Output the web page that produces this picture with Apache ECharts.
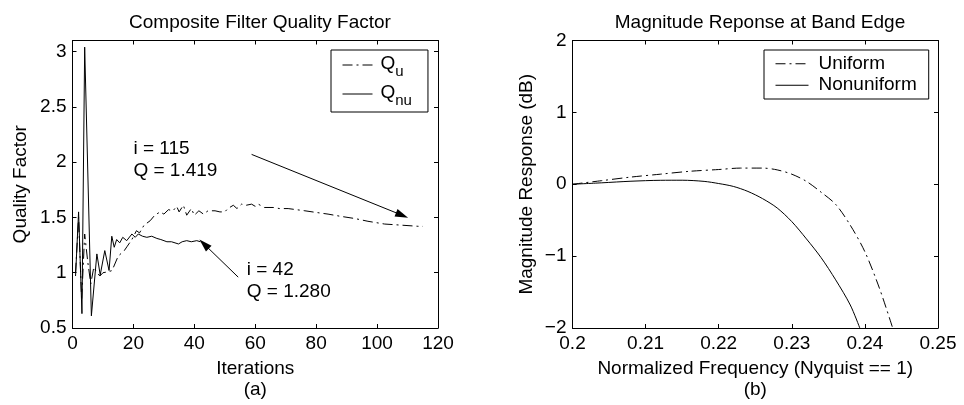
<!DOCTYPE html>
<html><head><meta charset="utf-8">
<script src="https://cdn.jsdelivr.net/npm/echarts@6/dist/echarts.min.js"></script>
<style>html,body{margin:0;padding:0;background:#fff}#c{width:964px;height:405px}</style>
</head><body><div id="c"></div>
<script>
// ---------- data ----------
const quIter = [1,2,3,4,5,6,7,8,9,10,12,13,15,17,18,19.5,21,22,23.5,25.5,27,28.8,30,31.5,33,34.2,35,36.4,37.5,39,40,41.5,43,44.5,46.8,48.4,50,51,52.8,54,55.5,57,58.8,60,61,63,65.9,68,70.8,76.3,80,83.9,88,92.7,97,102.5,108,113.4,115];
const quVal  = [1.0,1.5,0.75,1.35,1.1,0.9,1.05,1.0,0.97,1.0,1.01,1.02,1.15,1.2,1.24,1.3,1.38,1.36,1.43,1.47,1.52,1.55,1.53,1.57,1.56,1.6,1.55,1.61,1.52,1.58,1.52,1.56,1.53,1.56,1.56,1.55,1.55,1.58,1.61,1.58,1.62,1.61,1.62,1.6,1.62,1.59,1.59,1.58,1.58,1.56,1.545,1.53,1.51,1.49,1.465,1.44,1.43,1.42,1.419];
const qnuIter = [1,2,3.1,4,6.2,8,9.1,10.6,12,12.9,13.7,14.5,15.5,16.5,17.8,19.5,20.6,21.6,23,24.4,26,27.7,29,31,32.5,34.8,36,37.5,39,40.8,42];
const qnuVal  = [0.97,1.55,0.63,3.04,0.61,1.17,0.98,1.2,1.02,1.33,1.23,1.3,1.27,1.32,1.29,1.35,1.32,1.35,1.33,1.32,1.33,1.31,1.3,1.28,1.28,1.26,1.28,1.29,1.28,1.29,1.28];
const freqUni = [0.200,0.204,0.208,0.212,0.216,0.220,0.223,0.226,0.228,0.230,0.232,0.234,0.236,0.238,0.240,0.242,0.2438];
const magUni  = [0,0.05,0.10,0.14,0.18,0.205,0.225,0.225,0.20,0.14,0.04,-0.11,-0.28,-0.57,-0.94,-1.45,-2.0];
const freqNon = [0.200,0.204,0.208,0.212,0.215,0.218,0.220,0.222,0.224,0.226,0.228,0.230,0.232,0.234,0.236,0.238,0.2393];
const magNon  = [0,0.02,0.042,0.055,0.056,0.04,0.01,-0.03,-0.10,-0.20,-0.33,-0.52,-0.76,-1.02,-1.33,-1.68,-2.0];
// annotations: arrow [tail, tip] and text anchor (left-middle) in data units
const arrowQu  = [[58.8, 2.07], [108.2, 1.52]];
const arrowQnu = [[54.4, 0.96], [43.2, 1.259]];
const textQu   = {at: [20, 2.02], text: 'i = 115\nQ = 1.419'};
const textQnu  = {at: [57.2, 0.928], text: 'i = 42\nQ = 1.280'};
const titles = ['Composite Filter Quality Factor', 'Magnitude Reponse at Band Edge'];

// ---------- chart ----------
const FONT = "'Liberation Sans', Arial, Helvetica, sans-serif";
const FS = 19;
const zip = (a, b) => a.map((v, i) => [v, b[i]]);
const minus = v => (v < 0 ? '\u2212' + Math.abs(v) : String(v));
const tick = {inside: true, length: 4, lineStyle: {color: '#000', width: 1}};
const line = {show: true, onZero: false, lineStyle: {color: '#000', width: 1}};
const lbl = {color: '#000', fontSize: FS, fontFamily: FONT};
const DASHDOT = [10, 4, 2, 4];
const noSymbol = {color: 'rgba(0,0,0,0)', borderColor: 'rgba(0,0,0,0)', borderWidth: 0, opacity: 0};

function boxAxes(grid, min, max, interval, isX, fmt, nameOpt) {
  const main = Object.assign({
    type: 'value', gridIndex: grid, min, max, interval,
    position: isX ? 'bottom' : 'left',
    axisLine: line, axisTick: tick, splitLine: {show: false},
    axisLabel: Object.assign({}, lbl, {margin: 6, formatter: fmt})
  }, nameOpt || {});
  const opp = {
    type: 'value', gridIndex: grid, min, max, interval,
    position: isX ? 'top' : 'right',
    axisLine: line, axisTick: tick, splitLine: {show: false}, axisLabel: {show: false}
  };
  return [main, opp];
}

const chart = echarts.init(document.getElementById('c'), null, {renderer: 'canvas'});
const xa = [].concat(
  boxAxes(0, 0, 120, 20, true, v => String(v), {
    name: 'Iterations\n(a)', nameLocation: 'middle', nameGap: 29,
    nameTextStyle: {color: '#000', fontSize: FS, fontFamily: FONT, lineHeight: 21}
  }),
  boxAxes(1, 0.2, 0.25, 0.01, true, v => String(+v.toFixed(2)), {
    name: 'Normalized Frequency (Nyquist == 1)\n(b)', nameLocation: 'middle', nameGap: 29,
    nameTextStyle: {color: '#000', fontSize: FS, fontFamily: FONT, lineHeight: 21}
  })
);
const ya = [].concat(
  boxAxes(0, 0.5, 3.1, 0.5, false, v => String(v), {
    name: 'Quality Factor', nameLocation: 'middle', nameGap: 42,
    nameTextStyle: {color: '#000', fontSize: FS, fontFamily: FONT}
  }),
  boxAxes(1, -2, 2, 1, false, minus, {
    name: 'Magnitude Response (dB)', nameLocation: 'middle', nameGap: 36,
    nameTextStyle: {color: '#000', fontSize: FS, fontFamily: FONT}
  })
);
ya[0].axisLabel.showMaxLabel = false;

const arrowMark = (pair) => ({
  silent: true, symbol: ['none', 'triangle'], symbolSize: [8, 13],
  lineStyle: {color: '#000', width: 1, type: 'solid'},
  label: {show: false}, emphasis: {disabled: true},
  data: [[{coord: pair[0]}, {coord: pair[1]}]]
});
const textMark = (t) => ({
  silent: true, symbol: 'circle', symbolSize: 0,
  label: {show: true, position: 'right', distance: 0, formatter: t.text,
          color: '#000', fontSize: FS, fontFamily: FONT, lineHeight: 22, align: 'left'},
  data: [{coord: t.at}]
});

chart.setOption({
  animation: false,
  backgroundColor: '#fff',
  title: [
    {text: titles[0], left: 255, top: 8, textAlign: 'center',
     textStyle: {color: '#000', fontSize: FS, fontWeight: 'normal', fontFamily: FONT}},
    {text: titles[1], left: 755, top: 8, textAlign: 'center',
     textStyle: {color: '#000', fontSize: FS, fontWeight: 'normal', fontFamily: FONT}}
  ],
  grid: [
    {left: 72.5, top: 40.5, width: 365.5, height: 287.5, show: false},
    {left: 572.5, top: 40.5, width: 365.5, height: 287.5, show: false}
  ],
  xAxis: xa,
  yAxis: ya,
  legend: [
    {
      data: ['Qu', 'Qnu'], orient: 'vertical', left: 331, top: 50,
      padding: [4, 16, 4, 11], itemGap: 4, itemWidth: 30, itemHeight: 14,
      borderColor: '#000', borderWidth: 1, backgroundColor: '#fff',
      selectedMode: false, itemStyle: noSymbol,
      lineStyle: {width: 1, color: '#000'},
      formatter: n => '{q|Q}{s|' + n.slice(1) + '}',
      textStyle: {
        padding: [0, 0, 0, 3],
        rich: {
          q: {fontSize: FS, fontFamily: FONT, color: '#000', lineHeight: 22, verticalAlign: 'top'},
          s: {fontSize: 15, fontFamily: FONT, color: '#000', lineHeight: 16, padding: [10, 0, 0, 0], verticalAlign: 'top'}
        }
      }
    },
    {
      data: ['Uniform', 'Nonuniform'], orient: 'vertical', left: 764, top: 50,
      padding: [3, 12, 3, 11], itemGap: 0, itemWidth: 33, itemHeight: 14,
      borderColor: '#000', borderWidth: 1, backgroundColor: '#fff',
      selectedMode: false, itemStyle: noSymbol,
      lineStyle: {width: 1, color: '#000'},
      textStyle: {color: '#000', fontSize: FS, fontFamily: FONT, lineHeight: 21.5, padding: [0, 0, 0, 5]}
    }
  ],
  series: [
    {name: 'Qu', type: 'line', xAxisIndex: 0, yAxisIndex: 0, data: zip(quIter, quVal),
     symbol: 'none', silent: true, itemStyle: {color: '#000'},
     lineStyle: {color: '#000', width: 1, type: DASHDOT},
     markLine: arrowMark(arrowQu), markPoint: textMark(textQu)},
    {name: 'Qnu', type: 'line', xAxisIndex: 0, yAxisIndex: 0, data: zip(qnuIter, qnuVal),
     symbol: 'none', silent: true, itemStyle: {color: '#000'},
     lineStyle: {color: '#000', width: 1, type: 'solid'},
     markLine: arrowMark(arrowQnu), markPoint: textMark(textQnu)},
    {name: 'Uniform', type: 'line', xAxisIndex: 2, yAxisIndex: 2, data: zip(freqUni, magUni),
     symbol: 'none', silent: true, smooth: 0.3, itemStyle: {color: '#000'},
     lineStyle: {color: '#000', width: 1, type: DASHDOT}},
    {name: 'Nonuniform', type: 'line', xAxisIndex: 2, yAxisIndex: 2, data: zip(freqNon, magNon),
     symbol: 'none', silent: true, smooth: 0.3, itemStyle: {color: '#000'},
     lineStyle: {color: '#000', width: 1, type: 'solid'}}
  ]
});
</script></body></html>
